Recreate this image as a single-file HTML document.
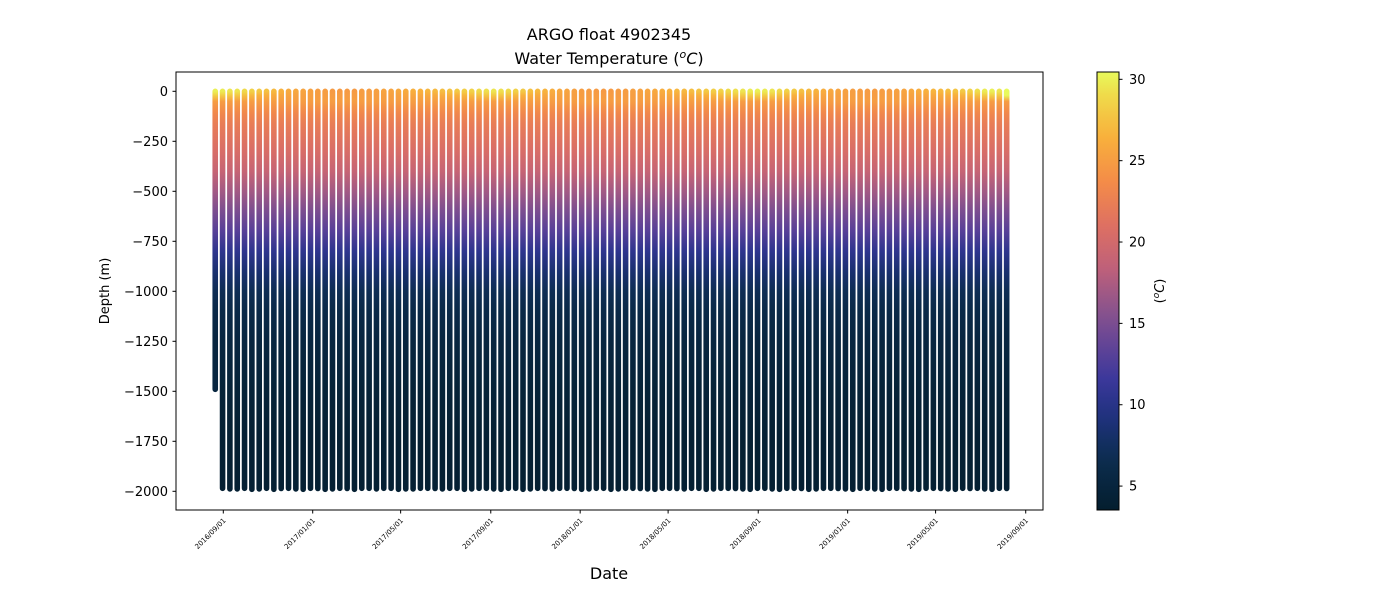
<!DOCTYPE html>
<html><head><meta charset="utf-8"><style>
body{margin:0;background:#fff;}
svg text{font-family:"DejaVu Sans","Liberation Sans",sans-serif;fill:#000;}
</style></head><body>
<svg id="chart" width="1400" height="600" viewBox="0 0 1400 600" xmlns="http://www.w3.org/2000/svg">
<defs id="defs"></defs>
<text x="609" y="40" font-size="16" text-anchor="middle">ARGO float 4902345</text>
<text x="609" y="64" font-size="16" text-anchor="middle">Water Temperature (<tspan font-style="italic" font-size="11" dy="-6">o</tspan><tspan font-style="italic" dy="6">C</tspan>)</text>
<g id="profiles"></g>
<rect x="176" y="72" width="867" height="438" fill="none" stroke="#000" stroke-width="1"/>
<g id="yaxis"></g>
<g id="xaxis"></g>
<text x="0" y="0" font-size="13" text-anchor="middle" transform="translate(109,291) rotate(-90)">Depth (m)</text>
<text x="609" y="579" font-size="16" text-anchor="middle">Date</text>
<g id="cbar"></g>
<text font-size="13" text-anchor="middle" transform="translate(1164,291) rotate(-90)">(<tspan font-style="italic" font-size="9" dy="-5">o</tspan><tspan font-style="italic" dy="5">C</tspan>)</text>
</svg>
<script>
const profileDates=["2016-08-21","2016-08-31","2016-09-10","2016-09-20","2016-09-30","2016-10-10","2016-10-20","2016-10-30","2016-11-09","2016-11-19","2016-11-29","2016-12-09","2016-12-19","2016-12-29",
"2017-01-08","2017-01-18","2017-01-28","2017-02-07","2017-02-17","2017-02-27","2017-03-09","2017-03-19","2017-03-29","2017-04-08","2017-04-18","2017-04-28","2017-05-08","2017-05-18","2017-05-28","2017-06-07","2017-06-17","2017-06-27","2017-07-07","2017-07-17","2017-07-27","2017-08-06","2017-08-16","2017-08-26","2017-09-05","2017-09-15","2017-09-25","2017-10-05","2017-10-15","2017-10-25","2017-11-04","2017-11-14","2017-11-24","2017-12-04","2017-12-14","2017-12-24",
"2018-01-03","2018-01-13","2018-01-23","2018-02-02","2018-02-12","2018-02-22","2018-03-04","2018-03-14","2018-03-24","2018-04-03","2018-04-13","2018-04-23","2018-05-03","2018-05-13","2018-05-23","2018-06-02","2018-06-12","2018-06-22","2018-07-02","2018-07-12","2018-07-22","2018-08-01","2018-08-11","2018-08-21","2018-08-31","2018-09-10","2018-09-20","2018-09-30","2018-10-10","2018-10-20","2018-10-30","2018-11-09","2018-11-19","2018-11-29","2018-12-09","2018-12-19","2018-12-29",
"2019-01-08","2019-01-18","2019-01-28","2019-02-07","2019-02-17","2019-02-27","2019-03-09","2019-03-19","2019-03-29","2019-04-08","2019-04-18","2019-04-28","2019-05-08","2019-05-18","2019-05-28","2019-06-07","2019-06-17","2019-06-27","2019-07-07","2019-07-17","2019-07-27","2019-08-06"];
const surfaceTemps=[30,29.8,29.5,29.5,29,28.5,28,27.5,27,26.5,26,25.8,25.5,25.3,
25,25,24.8,24.8,24.8,24.8,25,25,25.2,25.5,25.5,25.8,26,26.3,26.5,26.8,27,27.3,27.6,28,28.3,28.6,29,29.3,29.5,29.3,29,28.5,28,27.5,27,26.6,26.2,25.8,25.5,25.2,
25,24.9,24.8,24.8,24.8,24.9,25,25.2,25.4,25.6,25.9,26.2,26.5,26.8,27,27.3,27.6,28,28.3,28.6,29,29.3,29.5,29.8,30,29.8,29.5,29,28.5,28,27.5,27,26.6,26.2,25.8,25.5,25.3,
25.1,25,24.9,24.9,25,25.1,25.3,25.5,25.8,26.1,26.4,26.7,27,27.3,27.7,28.1,28.6,29.2,29.8,30,29.5];
const maxDepths=[1490,1985,1988,1988,1985,1990,1988,1985,1990,1986,1985,1988,1990,1985,1986,1990,1988,1985,1986,1990,1985,1985,1988,1985,1985,1990,1988,1988,1985,1985,1986,1988,1985,1985,1990,1988,1985,1985,1988,1990,1985,1985,1990,1988,1985,1986,1988,1985,1985,1986,1990,1988,1985,1985,1990,1988,1985,1985,1986,1988,1990,1985,1985,1986,1988,1985,1985,1990,1988,1985,1985,1986,1988,1990,1985,1985,1988,1990,1985,1985,1986,1990,1988,1985,1985,1986,1988,1990,1985,1985,1988,1990,1985,1985,1986,1988,1990,1985,1985,1986,1988,1990,1985,1986,1985,1988,1990,1985,1986];
const levelDepths=[0,20,50,100,150,200,300,400,500,600,700,800,900,1000,1100,1250,1500,1750,2000];
const levelTemps=[null,null,25,23.5,22.5,21.8,20.5,19,17,15,13,10.5,8.5,7,6,5.2,4.5,4,3.7];
const yTicks=[0,-250,-500,-750,-1000,-1250,-1500,-1750,-2000];
const xTickLabels=["2016/09/01","2017/01/01","2017/05/01","2017/09/01","2018/01/01","2018/05/01","2018/09/01","2019/01/01","2019/05/01","2019/09/01"];
const cbarTicks=[5,10,15,20,25,30];

const NS="http://www.w3.org/2000/svg";
const base=Date.UTC(2016,8,1);
function days(s){const p=s.split(/[-\/]/).map(Number);return (Date.UTC(p[0],p[1]-1,p[2])-base)/86400000;}
const xScale=d=>223.3+days(d)*0.7328;
const yScale=v=>91.3+(-v)*0.2;
const tMin=3.53,tMax=30.45;
const cScale=t=>510-(t-tMin)/(tMax-tMin)*438;
const stops=[[0,[4,30,46]],[0.12,[12,45,80]],[0.22,[33,50,130]],[0.3,[60,56,155]],[0.38,[100,68,150]],[0.46,[140,84,140]],[0.55,[190,96,122]],[0.65,[222,112,98]],[0.75,[244,140,72]],[0.85,[248,176,60]],[0.94,[240,214,72]],[1,[232,250,91]]];
function cmap(t){let f=Math.max(0,Math.min(1,(t-tMin)/(tMax-tMin)));
 for(let i=1;i<stops.length;i++){if(f<=stops[i][0]){const a=stops[i-1],b=stops[i],u=(f-a[0])/(b[0]-a[0]);
  return "rgb("+a[1].map((c,k)=>Math.round(c+(b[1][k]-c)*u)).join(",")+")";}}
 return "rgb(232,250,91)";}
function mk(tag,attrs,parent){const e=document.createElementNS(NS,tag);for(const k in attrs)e.setAttribute(k,attrs[k]);parent.appendChild(e);return e;}

const defs=document.getElementById('defs'),prof=document.getElementById('profiles');
profileDates.forEach((d,i)=>{
 const x=xScale(d),md=maxDepths[i],sst=surfaceTemps[i];
 const temps=levelTemps.map((t,k)=>k===0?sst:(k===1?Math.max(sst-1.5,(sst+25)/2):t));
 const g=mk('linearGradient',{id:'g'+i,gradientUnits:'userSpaceOnUse',x1:0,x2:0,y1:yScale(0),y2:yScale(-md)},defs);
 levelDepths.forEach((dep,k)=>{if(dep<=md){mk('stop',{offset:(dep/md).toFixed(4),'stop-color':cmap(temps[k])},g);}});
 const ln=mk('line',{x1:x,x2:x,y1:yScale(0),y2:yScale(-md),stroke:'url(#g'+i+')','stroke-width':5.6,'stroke-linecap':'round'},prof);
 
 
});

const ya=document.getElementById('yaxis');
yTicks.forEach(v=>{const y=yScale(v);
 const t=mk('line',{x1:172.5,x2:176,y1:y,y2:y,stroke:'#000'},ya);
 
 
 const l=mk('text',{x:168,y:y+4.5,'font-size':13,'text-anchor':'end'},ya);l.textContent=(v<0?'\u2212'+(-v):String(v));
 
 });
const xa=document.getElementById('xaxis');
xTickLabels.forEach(s=>{const x=xScale(s);
 const t=mk('line',{x1:x,x2:x,y1:510,y2:513.5,stroke:'#000'},xa);
 
 
 const l=mk('text',{x:0,y:0,'font-size':7,'text-anchor':'end',transform:'translate('+(x+3)+',521) rotate(-45)'},xa);l.textContent=s;
 
 });

const cb=document.getElementById('cbar');
const cg=mk('linearGradient',{id:'cbg',x1:0,x2:0,y1:1,y2:0},defs);
for(let k=0;k<=20;k++){const t=tMin+(tMax-tMin)*k/20;mk('stop',{offset:k/20,'stop-color':cmap(t)},cg);}
const cr=mk('rect',{x:1097,y:72,width:22,height:438,fill:'url(#cbg)',stroke:'#000','stroke-width':1},cb);


cbarTicks.forEach(t=>{const y=cScale(t);
 const tk=mk('line',{x1:1119,x2:1122.5,y1:y,y2:y,stroke:'#000'},cb);
 
 
 const l=mk('text',{x:1129,y:y+4.5,'font-size':13},cb);l.textContent=String(t);
 
 });
</script>
</body></html>
